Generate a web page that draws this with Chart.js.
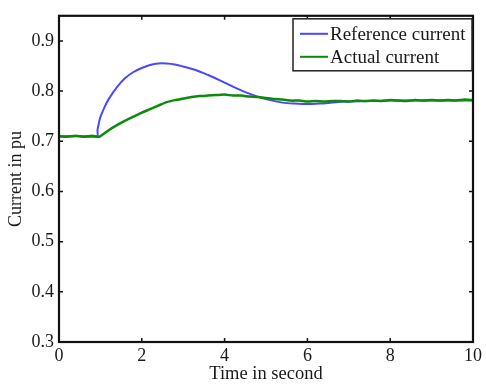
<!DOCTYPE html>
<html>
<head>
<meta charset="utf-8">
<script src="https://cdn.jsdelivr.net/npm/chart.js@4/dist/chart.umd.min.js"></script>
<style>
  html, body { margin: 0; padding: 0; background: #fff; }
  #wrap { width: 486px; height: 388px; }
</style>
</head>
<body>
<div id="wrap"><canvas id="currentChart"></canvas></div>
<script>
// Reference current (blue)
const timeRef = [0, 0.5, 0.92, 0.93, 0.96, 1.0, 1.1, 1.2, 1.4, 1.6, 1.8, 2.0, 2.2, 2.4, 2.6, 2.8, 3.0, 3.3, 3.6, 3.9, 4.2, 4.5, 4.8, 5.1, 5.4, 5.7, 6.0, 6.3, 6.6, 6.9, 7.5, 8, 9, 10];
const refCurrent = [0.71, 0.71, 0.71, 0.722, 0.735, 0.748, 0.768, 0.784, 0.808, 0.826, 0.838, 0.846, 0.852, 0.855, 0.855, 0.853, 0.849, 0.842, 0.832, 0.821, 0.809, 0.798, 0.789, 0.782, 0.777, 0.775, 0.774, 0.775, 0.777, 0.779, 0.780, 0.781, 0.781, 0.781];

// Actual current (green)
const timeAct = [0, 0.2, 0.4, 0.6, 0.8, 0.97, 1.2, 1.4, 1.6, 1.8, 2.0, 2.2, 2.4, 2.6, 2.8, 3.0, 3.2, 3.4, 3.6, 3.8, 4.0, 4.2, 4.4, 4.6, 4.8, 5.0, 5.2, 5.4, 5.6, 5.8, 6.0, 6.2, 6.4, 6.6, 6.8, 7.0, 7.2, 7.4, 7.6, 7.8, 8.0, 8.2, 8.4, 8.6, 8.8, 9.0, 9.2, 9.4, 9.6, 9.8, 10];
const actCurrent = [0.710, 0.709, 0.711, 0.709, 0.711, 0.709, 0.722, 0.732, 0.741, 0.749, 0.757, 0.764, 0.771, 0.778, 0.782, 0.785, 0.788, 0.790, 0.791, 0.792, 0.793, 0.791, 0.791, 0.789, 0.788, 0.786, 0.784, 0.783, 0.781, 0.781, 0.779, 0.780, 0.779, 0.780, 0.780, 0.779, 0.781, 0.780, 0.781, 0.780, 0.782, 0.781, 0.780, 0.782, 0.781, 0.782, 0.781, 0.782, 0.781, 0.783, 0.782];

const xTicks = [0, 2, 4, 6, 8, 10];
const yTicks = [0.3, 0.4, 0.5, 0.6, 0.7, 0.8, 0.9];

const serif = 'Liberation Serif';
const textColor = '#1a1a1a';

const toPoints = (xs, ys) => xs.map((x, i) => ({x: x, y: ys[i]}));

// khung + vạch chia hướng vào trong (kiểu MATLAB)
const framePlugin = {
    id: 'frame',
    afterDatasetsDraw(chart) {
        const {ctx, chartArea: a, scales} = chart;
        ctx.save();
        ctx.strokeStyle = '#111';
        ctx.lineWidth = 1.5;
        ctx.beginPath();
        scales.x.ticks.forEach(t => {
            const px = scales.x.getPixelForValue(t.value);
            ctx.moveTo(px, a.bottom); ctx.lineTo(px, a.bottom - 4);
            ctx.moveTo(px, a.top); ctx.lineTo(px, a.top + 4);
        });
        scales.y.ticks.forEach(t => {
            const py = scales.y.getPixelForValue(t.value);
            ctx.moveTo(a.left, py); ctx.lineTo(a.left + 4, py);
            ctx.moveTo(a.right, py); ctx.lineTo(a.right - 4, py);
        });
        ctx.stroke();
        ctx.lineWidth = 2.2;
        ctx.strokeRect(a.left, a.top, a.right - a.left, a.bottom - a.top);
        ctx.restore();
    }
};

// chú thích có khung ở góc trên phải
const legendBoxPlugin = {
    id: 'legendBox',
    afterDraw(chart) {
        const {ctx, chartArea: a} = chart;
        const x0 = a.right - 180, y0 = a.top + 3, w = 179, h = 52;
        ctx.save();
        ctx.fillStyle = '#fff';
        ctx.fillRect(x0, y0, w, h);
        ctx.strokeStyle = '#222';
        ctx.lineWidth = 1.5;
        ctx.strokeRect(x0, y0, w, h);
        ctx.font = '19px "' + serif + '"';
        ctx.textBaseline = 'middle';
        chart.data.datasets.forEach((ds, i) => {
            const yy = y0 + 15 + i * 23;
            ctx.strokeStyle = ds.borderColor;
            ctx.lineWidth = 2;
            ctx.beginPath();
            ctx.moveTo(x0 + 7, yy); ctx.lineTo(x0 + 35, yy);
            ctx.stroke();
            ctx.fillStyle = textColor;
            ctx.fillText(ds.label, x0 + 37, yy + 1);
        });
        ctx.restore();
    }
};

new Chart(document.getElementById('currentChart'), {
    type: 'line',
    data: {
        datasets: [
            {
                label: 'Reference current',
                data: toPoints(timeRef, refCurrent),
                borderColor: '#4848ff',
                borderWidth: 2,
                pointRadius: 0,
                tension: 0.3,
                order: 1
            },
            {
                label: 'Actual current',
                data: toPoints(timeAct, actCurrent),
                borderColor: '#0b8a0b',
                borderWidth: 2.5,
                pointRadius: 0,
                tension: 0.2,
                order: 0
            }
        ]
    },
    options: {
        responsive: true,
        maintainAspectRatio: false,
        animation: false,
        layout: {padding: {top: 12, right: 13, left: 0, bottom: 0}},
        scales: {
            x: {
                type: 'linear',
                min: 0, max: 10,
                afterBuildTicks: s => { s.ticks = xTicks.map(v => ({value: v})); },
                afterFit: s => { s.height = 46; },
                grid: {display: false, drawTicks: false},
                border: {display: false},
                ticks: {
                    padding: 3,
                    color: textColor,
                    font: {family: serif, size: 18},
                    callback: v => String(v)
                },
                title: {
                    display: true,
                    text: 'Time in second',
                    color: textColor,
                    font: {family: serif, size: 18.5},
                    padding: {top: 0, bottom: 3}
                }
            },
            y: {
                min: 0.3, max: 0.95,
                afterBuildTicks: s => { s.ticks = yTicks.map(v => ({value: v})); },
                afterFit: s => { s.width = 59; },
                grid: {display: false, drawTicks: false},
                border: {display: false},
                ticks: {
                    padding: 5,
                    color: textColor,
                    font: {family: serif, size: 18},
                    callback: v => v.toFixed(1)
                },
                title: {
                    display: true,
                    text: 'Current in pu',
                    color: textColor,
                    font: {family: serif, size: 18},
                    padding: {top: 5, bottom: 0}
                }
            }
        },
        plugins: {
            legend: {display: false},
            tooltip: {enabled: false}
        }
    },
    plugins: [framePlugin, legendBoxPlugin]
});
</script>
</body>
</html>
